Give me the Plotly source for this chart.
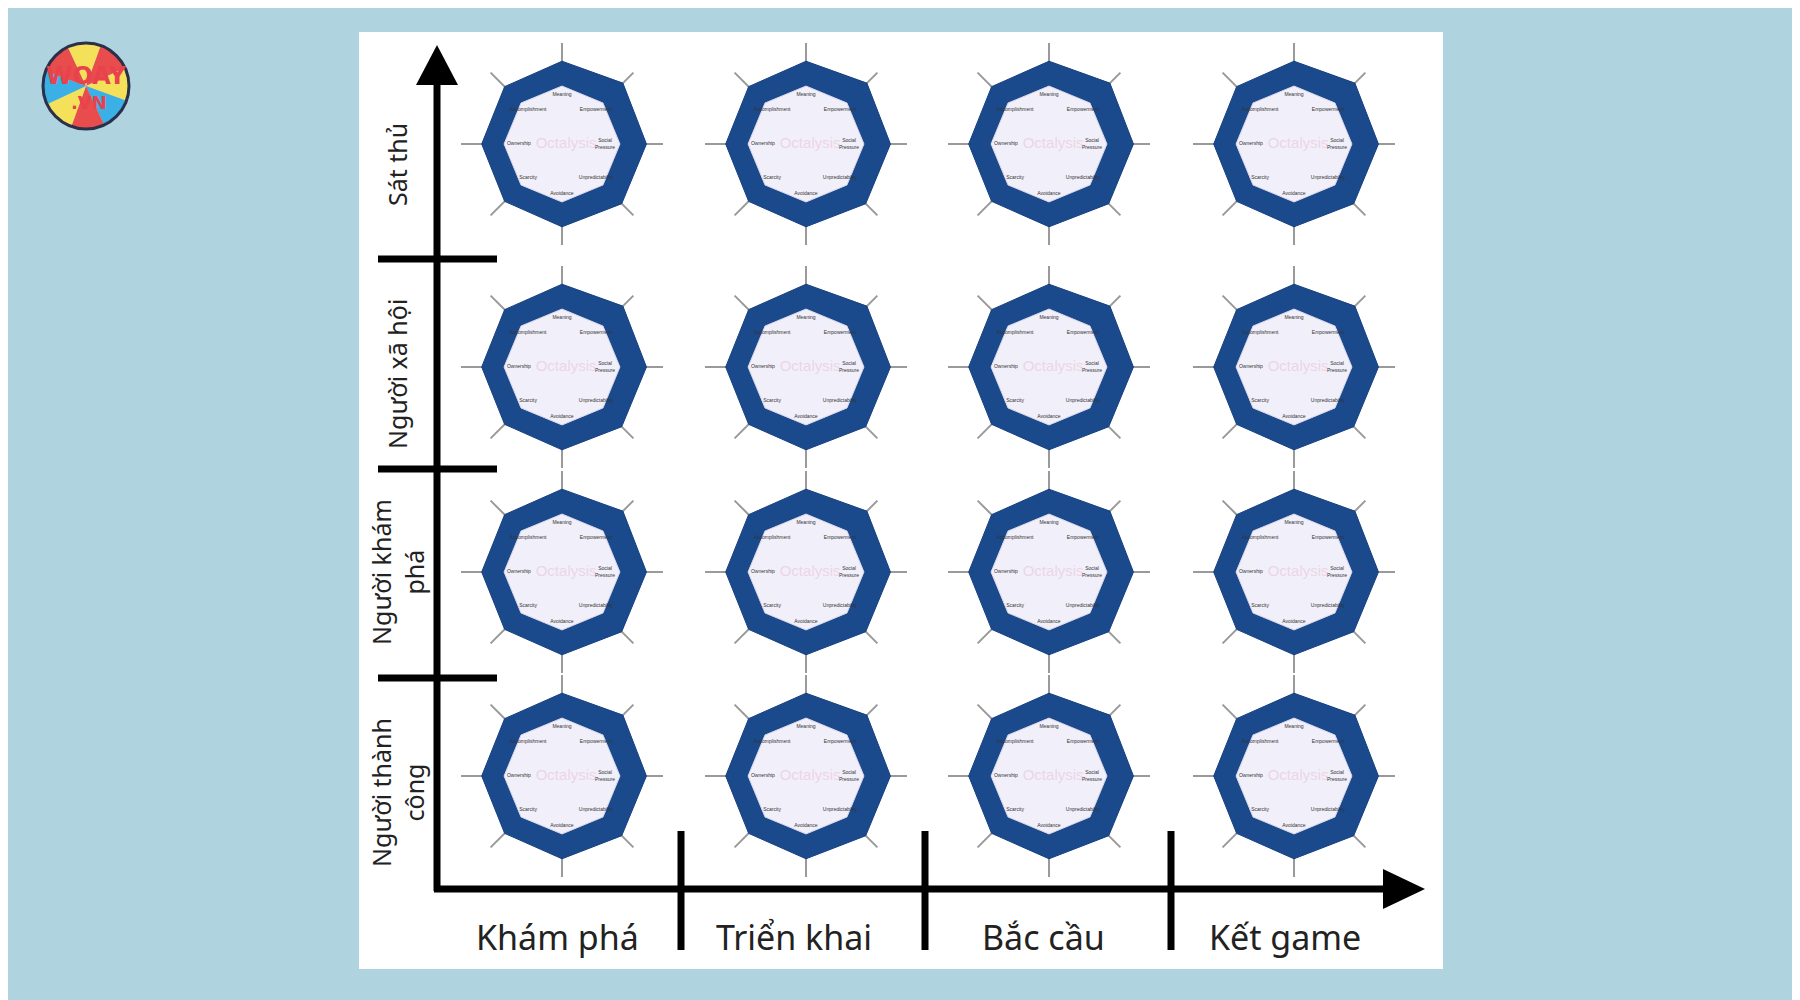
import plotly.graph_objects as go

W, H = 1800, 1000

stages = ['Khám phá', 'Triển khai', 'Bắc cầu', 'Kết game']
players = ['Sát thủ', 'Người xã hội', 'Người khám<br>phá', 'Người thành<br>công']
drives = ['Social<br>Pressure', 'Empowerment', 'Meaning', 'Accomplishment',
          'Ownership', 'Scarcity', 'Avoidance', 'Unpredictability']
angles = [0, 45, 90, 135, 180, 225, 270, 315]
outer_r = [1.02, 1.04, 1.0, 0.98, 0.97, 0.98, 1.0, 1.02]
inner_r = [0.7, 0.7, 0.7, 0.7, 0.7, 0.7, 0.7, 0.7]
label_r = [0.52, 0.58, 0.6, 0.58, 0.52, 0.58, 0.6, 0.58]

col_x = [561, 805, 1048, 1293]
row_y = [143, 366, 571, 775]
half = 101
OX, OY = -7, -7

def px(x):
    return (x + OX) / W

def py(y):
    return 1 - (y + OY) / H

fig = go.Figure()
layout = {}

n = 0
for ri, cy in enumerate(row_y):
    for ci, cx in enumerate(col_x):
        n += 1
        sub = 'polar' if n == 1 else f'polar{n}'
        layout[sub] = dict(
            domain=dict(x=[px(cx - half), px(cx + half)],
                        y=[py(cy + half), py(cy - half)]),
            bgcolor='rgba(0,0,0,0)',
            radialaxis=dict(range=[0, 1.22], visible=False),
            angularaxis=dict(tickvals=angles, showticklabels=False, ticks='',
                             showline=False, gridcolor='#9a9a9a', gridwidth=1.5,
                             rotation=0, direction='counterclockwise'),
        )
        fig.add_trace(go.Scatterpolar(
            r=outer_r + outer_r[:1], theta=angles + angles[:1], mode='lines',
            fill='toself', fillcolor='#1a4a8c', line=dict(color='#163f80', width=1),
            subplot=sub, showlegend=False, hoverinfo='skip'))
        fig.add_trace(go.Scatterpolar(
            r=inner_r + inner_r[:1], theta=angles + angles[:1], mode='lines',
            fill='toself', fillcolor='#f1eff9', line=dict(color='#dcd8ea', width=1),
            subplot=sub, showlegend=False, hoverinfo='skip'))
        fig.add_trace(go.Scatterpolar(
            r=label_r, theta=angles, mode='text', text=drives,
            textfont=dict(size=5, color='#333333', family='Arial'),
            subplot=sub, showlegend=False, hoverinfo='skip'))
        fig.add_trace(go.Scatterpolar(
            r=[0.05], theta=[0], mode='text', text=['Octalysis'],
            textfont=dict(size=15, color='rgba(230,160,190,0.35)', family='Arial'),
            subplot=sub, showlegend=False, hoverinfo='skip'))

# logo
fig.add_trace(go.Pie(
    values=[1] * 8, sort=False, direction='clockwise', rotation=20,
    marker=dict(colors=['#e84c4c', '#f5e05a', '#3bb0e6', '#e84c4c',
                        '#f5e05a', '#3bb0e6', '#e84c4c', '#f5e05a'],
                line=dict(color='#2a2f4a', width=0)),
    textinfo='none', hoverinfo='skip', showlegend=False,
    domain=dict(x=[px(42), px(128)], y=[py(128), py(42)])))

shapes = [dict(type='rect', xref='paper', yref='paper', x0=px(358), x1=px(1442),
               y0=py(968), y1=py(31), fillcolor='white', line=dict(width=0), layer='below'),
          dict(type='circle', xref='paper', yref='paper', x0=px(42), x1=px(128),
               y0=py(128), y1=py(42), line=dict(color='#2a2f4a', width=3))]
# axes
shapes.append(dict(type='line', xref='paper', yref='paper', x0=px(436), x1=px(436),
                   y0=py(890), y1=py(70), line=dict(color='black', width=7)))
shapes.append(dict(type='line', xref='paper', yref='paper', x0=px(433), x1=px(1395),
                   y0=py(888), y1=py(888), line=dict(color='black', width=7)))
shapes.append(dict(type='path', xref='paper', yref='paper',
                   path=f'M {px(415)} {py(84)} L {px(436)} {py(44)} L {px(457)} {py(84)} Z',
                   fillcolor='black', line=dict(width=0)))
shapes.append(dict(type='path', xref='paper', yref='paper',
                   path=f'M {px(1382)} {py(868)} L {px(1424)} {py(888)} L {px(1382)} {py(908)} Z',
                   fillcolor='black', line=dict(width=0)))
for yy in [258, 468, 677]:
    shapes.append(dict(type='line', xref='paper', yref='paper', x0=px(377), x1=px(496),
                       y0=py(yy), y1=py(yy), line=dict(color='black', width=7)))
for xx in [680, 924, 1170]:
    shapes.append(dict(type='line', xref='paper', yref='paper', x0=px(xx), x1=px(xx),
                       y0=py(830), y1=py(949), line=dict(color='black', width=7)))

annotations = []
for s, xx in zip(stages, [556, 793, 1042, 1284]):
    annotations.append(dict(text=s, x=px(xx), y=py(936), xref='paper', yref='paper',
                            xanchor='center', yanchor='middle',
                            showarrow=False, font=dict(size=34, color='#222222')))
for p, yy in zip(players, [164, 373, 571, 792]):
    annotations.append(dict(text=p, x=px(396), y=py(yy), xref='paper', yref='paper',
                            xanchor='center', yanchor='middle',
                            showarrow=False, textangle=-90,
                            font=dict(size=25, color='#222222')))
annotations.append(dict(text='<b>WOAY</b>', x=px(85), y=py(75), xref='paper', yref='paper',
                        xanchor='center', yanchor='middle', bgcolor='rgba(0,0,0,0)',
                        showarrow=False, font=dict(size=24, color='#e8434c', family='DejaVu Sans')))
annotations.append(dict(text='<b>.VN</b>', x=px(88), y=py(102), xref='paper', yref='paper',
                        xanchor='center', yanchor='middle',
                        showarrow=False, font=dict(size=18, color='#e8434c', family='DejaVu Sans')))

fig.update_layout(width=W, height=H, margin=dict(l=0, r=0, t=0, b=0),
                  paper_bgcolor='#afd3df', plot_bgcolor='#afd3df',
                  font=dict(family='Noto Sans'),
                  shapes=shapes, annotations=annotations, **layout)

fig.write_html('out.html')
